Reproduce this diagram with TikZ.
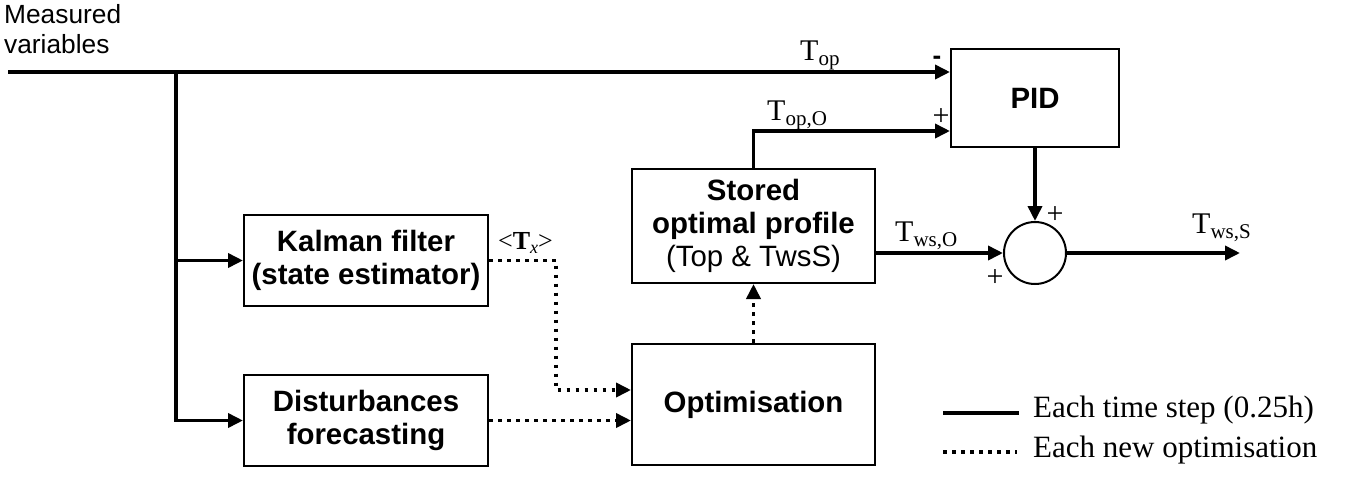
\documentclass[tikz,border=0pt]{standalone}
\usepackage{fontspec}
\setmainfont{Liberation Serif}
\newfontfamily\arialf{Liberation Sans}
\usetikzlibrary{arrows.meta}
\newcommand\lowsub[1]{\raisebox{-5pt}{\fontsize{21}{21}\selectfont #1}}
\tikzset{
  box/.style={draw, line width=2pt, align=center, inner sep=0pt,
    font=\arialf\bfseries\fontsize{29.4}{33}\selectfont},
  arr/.style={line width=3.6pt, -{Triangle[length=15pt,width=14pt]}},
  dotarr/.style={line width=3.6pt, dash pattern=on 3.6pt off 5.4pt, -{Triangle[length=15pt,width=14pt]}},
  lbl/.style={inner sep=0pt, anchor=base west, font=\fontsize{30}{30}\selectfont},
  sgn/.style={inner sep=0pt, font=\fontsize{30}{30}\selectfont},
  leg/.style={inner sep=0pt, anchor=base west, font=\fontsize{31}{31}\selectfont}
}
\begin{document}
\begin{tikzpicture}[x=1pt,y=-1pt]
\useasboundingbox (0,0) rectangle (1353,488);
% boxes
\node[box, minimum width=244pt, minimum height=91pt] (Kal) at (366,260.5)
  {Kalman filter\\(state estimator)};
\node[box, minimum width=244pt, minimum height=91pt] (Dist) at (366,420.5)
  {Disturbances\\forecasting};
\node[box, minimum width=243pt, minimum height=114pt] (Stored) at (753.5,226)
  {Stored\\optimal profile\\{\mdseries (Top \& TwsS)}};
\node[box, minimum width=243pt, minimum height=121pt] (Opt) at (753.5,404.5)
  {Optimisation};
\node[box, minimum width=168pt, minimum height=98pt] (PID) at (1035,98) {PID};
\node[draw, line width=2pt, circle, minimum size=62pt, inner sep=0pt] (Sum) at (1035,253) {};
% measured variables
\node[inner sep=0pt, anchor=north west, align=left,
  font=\arialf\fontsize{26.3}{30}\selectfont] (mv) at (4,4) {Measured\\variables};
% coordinates
\coordinate (start) at (8,72);
\coordinate (br) at (176,72);
\coordinate (kc) at (556,390);
\coordinate (out) at (1240,253);
% solid connectors
\draw[arr] (start) -- ([yshift=26pt]PID.west);
\draw[arr] (br) |- (Dist.west);
\draw[arr] (br |- Kal.west) -- (Kal.west);
\draw[arr] (Stored.north) |- ([yshift=-33pt]PID.west);
\draw[arr] (PID.south) -- (Sum.north);
\draw[arr] (Sum.west -| Stored.east) -- (Sum.west);
\draw[arr] (Sum.east) -- (out);
% dotted connectors
\draw[dotarr] (Kal.east) -| (kc) -- (kc -| Opt.west);
\draw[dotarr] (Dist.east) -- (Dist.east -| Opt.west);
\draw[dotarr] (Opt.north) -- (Stored.south);
% labels
\node[lbl] (ltop) at (800,60) {T\lowsub{op}};
\node[lbl] (ltopo) at (767,120) {T\lowsub{op,O}};
\node[lbl] (ltwso) at (895,241) {T\lowsub{ws,O}};
\node[lbl] (ltwss) at (1192,233) {T\lowsub{ws,S}};
\node[lbl, font=\fontsize{26}{26}\selectfont] (ltx) at (498,249)
  {<\textbf{T}\raisebox{-4pt}{\fontsize{18}{18}\selectfont\itshape x}>};
% signs
\node[sgn, font=\arialf\bfseries\fontsize{26}{26}\selectfont] (m1) at (937,60) {-};
\node[sgn] (p1) at (941,117) {+};
\node[sgn] (p2) at (1055,215) {+};
\node[sgn] (p3) at (995,278) {+};
% legend
\coordinate (s1) at (943,413);
\coordinate (s2) at (1019,413);
\coordinate (d1) at (943,452);
\coordinate (d2) at (1017,452);
\draw[line width=3.6pt] (s1) -- (s2);
\draw[line width=3.6pt, dash pattern=on 3.6pt off 5.4pt] (d1) -- (d2);
\node[leg] (lg1) at (1033,417) {Each time step (0.25h)};
\node[leg] (lg2) at (1033,457) {Each new optimisation};
\end{tikzpicture}
\end{document}
